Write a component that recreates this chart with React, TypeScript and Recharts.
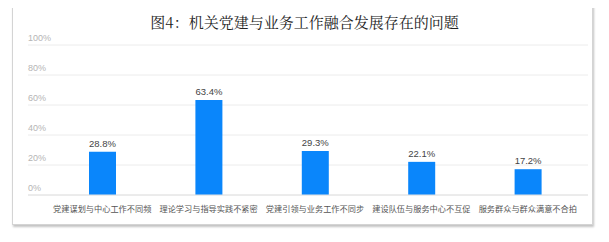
import { BarChart, Bar, XAxis, YAxis, CartesianGrid, LabelList } from "recharts";

const categories = [
  "党建谋划与中心工作不同频",
  "理论学习与指导实践不紧密",
  "党建引领与业务工作不同步",
  "建设队伍与服务中心不互促",
  "服务群众与群众满意不合拍",
];
const values = [28.8, 63.4, 29.3, 22.1, 17.2];
const yTicks = [0, 20, 40, 60, 80, 100];

const data = categories.map((name, i) => ({ name, value: values[i] }));

const YTick = (props: any) => {
  const { y, payload } = props;
  return (
    <text x={28} y={y - 4} fontSize={9} fill="#b5b5b5" textAnchor="start" fontFamily="Liberation Sans, Arial, sans-serif">
      {payload.value}%
    </text>
  );
};

export default function App() {
  return (
    <div style={{ position: "relative", width: 609, height: 242, margin: -8, background: "#fff" }}>
      <div
        style={{
          position: "absolute",
          left: 12,
          top: 3,
          width: 579,
          height: 220,
          border: "1px solid #d4d4d4",
          boxShadow: "1px 2px 2px #c4c4c4",
        }}
      />
      <div
        style={{
          position: "absolute",
          left: 0,
          top: 11,
          width: 609,
          textAlign: "center",
          fontSize: 15,
          color: "#222",
          fontFamily: "'Noto Serif CJK SC', 'Noto Sans CJK SC', serif",
        }}
      >
        图4：机关党建与业务工作融合发展存在的问题
      </div>
      <div style={{ position: "absolute", left: 0, top: 0 }}>
        <BarChart width={609} height={242} data={data} margin={{ top: 45, left: 27, right: 21, bottom: 27 }}>
          <CartesianGrid vertical={false} stroke="#ececec" />
          <XAxis
            dataKey="name"
            height={20}
            interval={0}
            padding={{ left: 21, right: 7 }}
            tickLine={false}
            axisLine={{ stroke: "#e2e2e2" }}
            tick={{ fontSize: 8.2, fill: "#555", fontFamily: "Noto Sans CJK SC" }}
            tickMargin={5}
          />
          <YAxis
            width={1}
            domain={[0, 100]}
            ticks={yTicks}
            axisLine={false}
            tickLine={false}
            tick={(p: any) => <YTick {...p} />}
          />
          <Bar dataKey="value" fill="#0a86fb" barSize={27} isAnimationActive={false}>
            <LabelList
              dataKey="value"
              position="top"
              offset={5}
              formatter={(v: any) => `${v}%`}
              style={{ fontSize: 9.5, fill: "#444", fontFamily: "Liberation Sans, Arial, sans-serif" }}
            />
          </Bar>
        </BarChart>
      </div>
    </div>
  );
}
